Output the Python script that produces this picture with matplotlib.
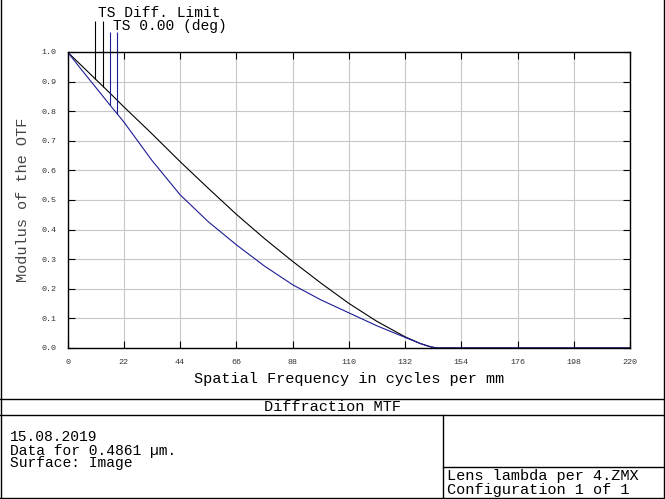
import numpy as np
from matplotlib import pyplot as plt
from matplotlib.lines import Line2D

# values
freq = [0, 5.5, 11, 16.5, 22, 33, 44, 55, 66, 77, 88, 99, 110, 121, 132, 138, 142, 144.5, 220]
diff_limit = [1.0, 0.954, 0.908, 0.862, 0.815, 0.724, 0.63, 0.54, 0.452, 0.37, 0.293, 0.22,
              0.151, 0.09, 0.038, 0.015, 0.004, 0.0, 0.0]
ts_000 = [1.0, 0.94, 0.881, 0.822, 0.764, 0.634, 0.518, 0.427, 0.349, 0.277, 0.214, 0.163,
          0.119, 0.075, 0.036, 0.015, 0.004, 0.0, 0.0]

xticks = [0, 22, 44, 66, 88, 110, 132, 154, 176, 198, 220]
yticks = [0.0, 0.1, 0.2, 0.3, 0.4, 0.5, 0.6, 0.7, 0.8, 0.9, 1.0]

# legend marker positions (cycles/mm)
diff_marks = [10.9, 14.0]
ts_marks = [16.5, 19.5]

W, H = 665, 499
mono = 'Liberation Mono'
navy = '#1c1c96'

fig = plt.figure(figsize=(W / 100, H / 100), dpi=100)

def px(x, y):
    return x / W, 1 - y / H

l, b = px(67.5, 348)
r, t = px(630, 52)
ax = fig.add_axes([l, b, r - l, t - b])

ax.plot(freq, diff_limit, color='black', lw=0.8)
ax.plot(freq, ts_000, color=navy, lw=0.8)

# vertical legend markers down to the curves
ax.vlines(diff_marks, np.interp(diff_marks, freq, diff_limit), 1.106,
          color='black', lw=0.8, clip_on=False)
ax.vlines(ts_marks, np.interp(ts_marks, freq, ts_000), 1.067,
          color=navy, lw=0.8, clip_on=False)

ax.set_xlim(0, 220)
ax.set_ylim(0, 1.0)
ax.set_xticks(xticks)
ax.set_yticks(yticks)
ax.set_xticklabels([str(v) for v in xticks], fontfamily=mono, fontsize=6, color='#333333')
ax.set_yticklabels(['%.1f' % v for v in yticks], fontfamily=mono, fontsize=6, color='#333333')
ax.tick_params(direction='in', length=5, width=0.8, top=True, right=True, pad=8)
ax.grid(True, color='#c8c8c8', lw=0.8)
for s in ax.spines.values():
    s.set_linewidth(1.0)

ax.set_xlabel('Spatial Frequency in cycles per mm', fontfamily=mono, fontsize=11, labelpad=4)
ax.set_ylabel('Modulus of the OTF', fontfamily=mono, fontsize=11, color='#444444', labelpad=8)

fig.text(*px(98, 13), 'TS Diff. Limit', fontfamily=mono, fontsize=10.5, va='center', ha='left')
fig.text(*px(113, 26), 'TS 0.00 (deg)', fontfamily=mono, fontsize=10.5, va='center', ha='left')

# frame of the report
def hline(y, x0, x1):
    fig.add_artist(Line2D([x0 / W, x1 / W], [1 - y / H, 1 - y / H], color='black', lw=1))

def vline(x, y0, y1):
    fig.add_artist(Line2D([x / W, x / W], [1 - y0 / H, 1 - y1 / H], color='black', lw=1))

vline(1, 0, 498)
vline(663.5, 0, 498)
hline(497.5, 0, 665)
hline(398.5, 0, 665)
hline(414.5, 0, 665)
vline(442.5, 414.5, 498)
hline(466.5, 442.5, 665)

fig.text(*px(332, 407), 'Diffraction MTF', fontfamily=mono, fontsize=11, ha='center', va='center')
fig.text(*px(10, 437), '15.08.2019', fontfamily=mono, fontsize=10.5, va='center')
fig.text(*px(10, 450.5), 'Data for 0.4861 µm.', fontfamily=mono, fontsize=10.5, va='center')
fig.text(*px(10, 463.5), 'Surface: Image', fontfamily=mono, fontsize=10.5, va='center')
fig.text(*px(447, 476), 'Lens lambda per 4.ZMX', fontfamily=mono, fontsize=11, va='center')
fig.text(*px(447, 490), 'Configuration 1 of 1', fontfamily=mono, fontsize=11, va='center')

fig.savefig('out.png', dpi=100)
